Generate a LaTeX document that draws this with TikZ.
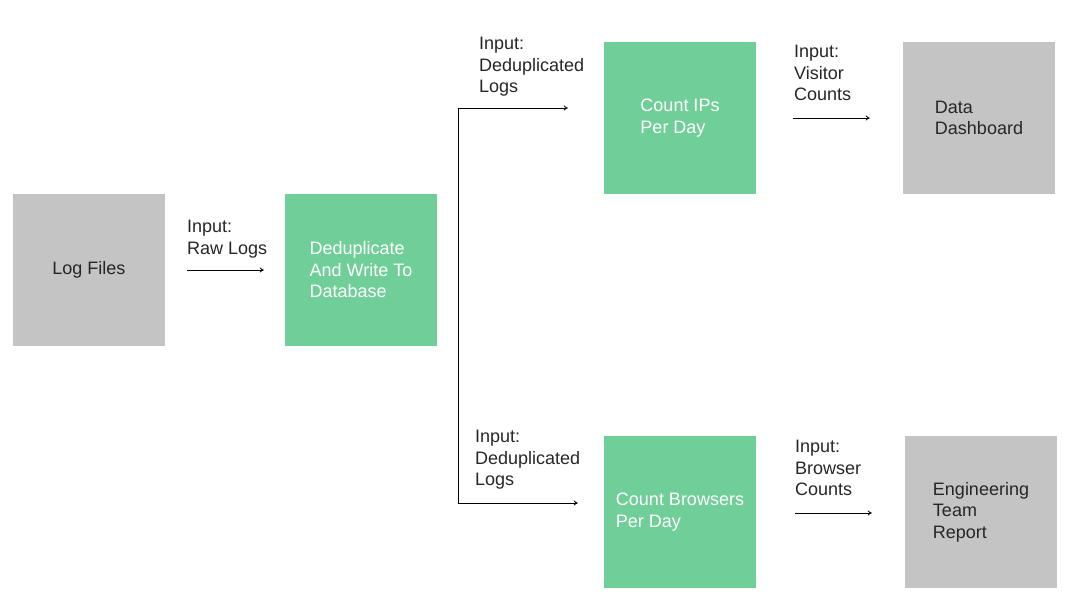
\documentclass[tikz,border=0pt]{standalone}
\usepackage{fontspec}
\setmainfont{Liberation Sans}
\usepackage{xcolor}
\usetikzlibrary{arrows.meta,positioning}
\definecolor{gris}{RGB}{196,196,196}
\definecolor{verde}{RGB}{112,207,152}
\tikzset{
  box/.style={rectangle, minimum width=152pt, minimum height=152pt, inner sep=0pt, align=left, font=\fontsize{18}{21.5}\selectfont},
  grisbox/.style={box, fill=gris, text=black!85},
  verdebox/.style={box, fill=verde, text=white},
  lbl/.style={anchor=north west, inner sep=0pt, align=left, text=black!85, font=\fontsize{18}{21.5}\selectfont},
  flow/.style={line width=0.8pt, -{To[length=4pt,width=5pt]}}
}
\begin{document}
\begin{tikzpicture}[x=1pt, y=-1pt]
        \useasboundingbox (0,0) rectangle (1078,603);
        % boxes
        \node[grisbox] (logs) at (89,270) {Log Files};
        \node[verdebox] (dedup) at (361,270) {Deduplicate\\And Write To\\Database};
        \node[verdebox] (ips) at (680,118) {Count IPs\\Per Day};
        \node[verdebox] (browsers) at (680,512) {Count Browsers\\Per Day};
        \node[grisbox] (dash) at (979,118) {Data\\Dashboard};
        \node[grisbox] (report) at (981,512) {Engineering\\Team\\Report};
        % labels
        \node[lbl] (rawlbl) at (187,220) {Input:\\Raw Logs};
        \node[lbl] (toplbl) at (479,37) {Input:\\Deduplicated\\Logs};
        \node[lbl] (botlbl) at (475,430) {Input:\\Deduplicated\\Logs};
        \node[lbl] (vislbl) at (794,45) {Input:\\Visitor\\Counts};
        \node[lbl] (brwlbl) at (795,440) {Input:\\Browser\\Counts};
        % arrows
        \coordinate (fork) at ([xshift=21pt]dedup.east);
        \draw[flow] ([xshift=22pt]logs.east) -- ([xshift=-21pt]dedup.west);
        \draw[flow] ([yshift=10pt]ips.west -| fork) -- ([xshift=-36pt,yshift=10pt]ips.west);
        \draw[flow] ([yshift=10pt]ips.west -| fork) |- ([xshift=-26pt,yshift=9pt]browsers.west);
        \draw[flow] ([xshift=37pt]ips.east) -- ([xshift=-33pt]dash.west);
        \draw[flow] ([xshift=39pt,yshift=-1pt]browsers.east) -- ([xshift=-33pt,yshift=-1pt]report.west);
      \end{tikzpicture}
\end{document}
